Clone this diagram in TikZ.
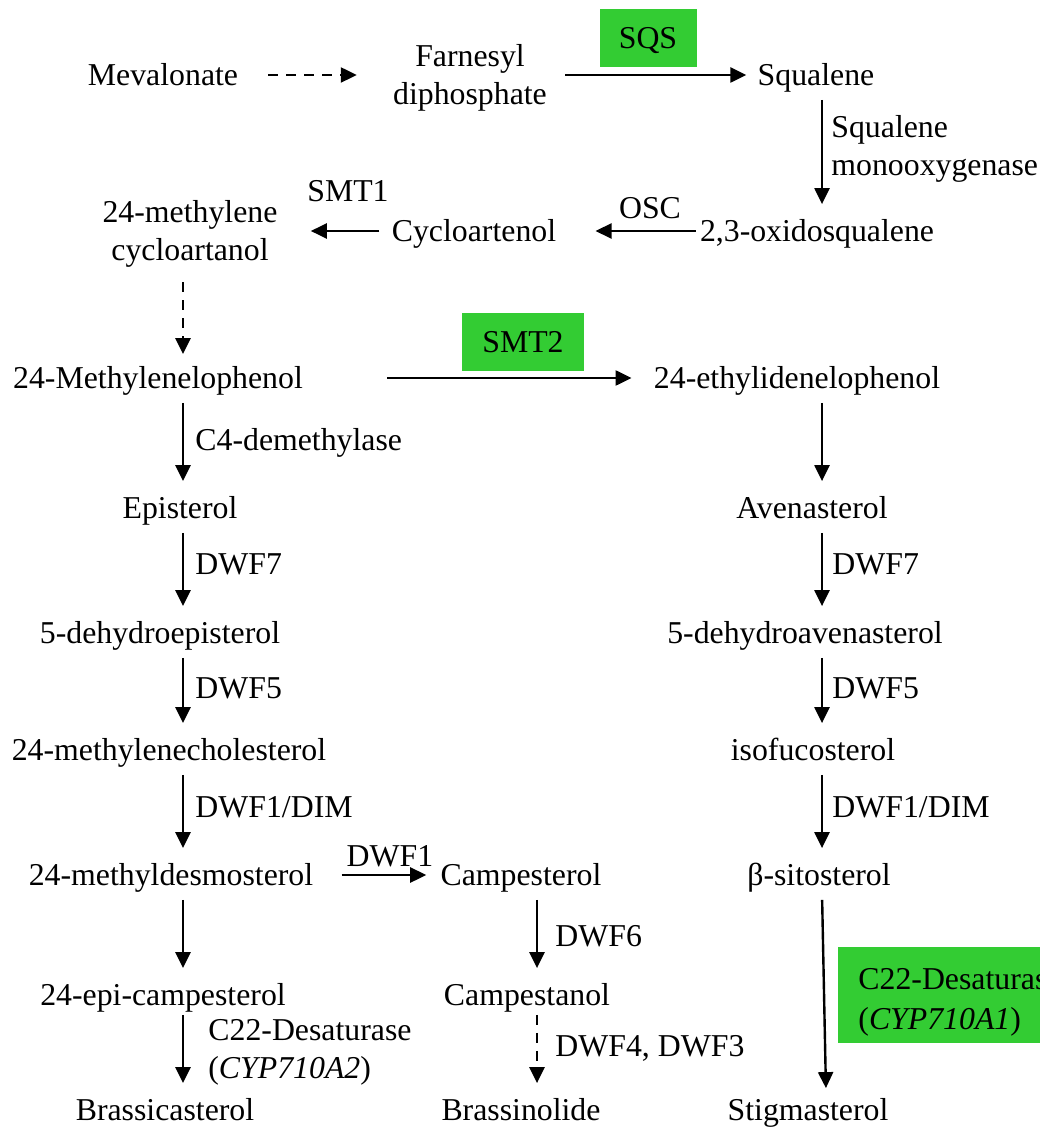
\documentclass[tikz,border=0pt]{standalone}
\usepackage{fontspec}
\setmainfont{Liberation Serif}
\usetikzlibrary{arrows.meta}
\definecolor{enzgreen}{HTML}{33CC33}
\newcommand{\lowfirst}{\lineskiplimit=-20pt\relax\rule{0pt}{17.5pt}}

\begin{document}
\begin{tikzpicture}[x=0.5pt, y=-0.5pt,
  every node/.style={font=\fontsize{15.9}{20}\selectfont},
  met/.style={align=center, inner sep=1pt},
  one/.style={met, text height=13pt, text depth=2.5pt},
  enz/.style={anchor=west, align=left, inner sep=1pt},
  gbox/.style={fill=enzgreen, inner sep=0pt, align=left},
  arr/.style={-{Triangle[length=8pt, width=7.5pt]}, line width=1.2pt},
  darr/.style={arr, dash pattern=on 5pt off 4pt},
  varr/.style={arr, shorten <=3.5pt, shorten >=4.5pt}
]
  \useasboundingbox (0,0) rectangle (1039,1127);

  % columns for the vertical arrows
  \coordinate (cl) at (183,0);
  \coordinate (cm) at (537,0);
  \coordinate (cr) at (822,0);
  \coordinate (cr2) at (826,0);

  % Top: mevalonate to squalene
  \node[one] (mev) at (163,75) {Mevalonate};
  \node[met, font=\fontsize{15.9}{18.75}\selectfont] (fpp) at (470,78) {Farnesyl\\diphosphate};
  \node[one] (sq) at (816,75) {Squalene};
  \node[gbox, one, minimum width=48.5pt, minimum height=29pt, inner sep=0pt] (sqs) at (648,38) {SQS};

  % Cyclisation
  \node[one] (oxsq) at (817,231) {2,3-oxidosqualene};
  \node[one] (cyc) at (474,231) {Cycloartenol};
  \node[met, font=\fontsize{15.9}{19}\selectfont] (mcyc) at (190,233.5) {24-methylene\\cycloartanol};
  \node[enz, font=\fontsize{15.9}{19}\selectfont] (sqmo) at (829,148.5) {Squalene\\monooxygenase};
  \node[met] (osc) at (650,208) {OSC};
  \node[met] (smt1) at (348,191) {SMT1};

  % Branch point
  \node[one] (mlp) at (158,378) {24-Methylenelophenol};
  \node[one] (elp) at (797,378) {24-ethylidenelophenol};
  \node[gbox, one, minimum width=61pt, minimum height=29pt, inner sep=0pt] (smt2) at (523,342) {SMT2};

  % Left column
  \node[one] (epi) at (180,508) {Episterol};
  \node[one] (dhepi) at (160,633) {5-dehydroepisterol};
  \node[one] (mchol) at (169,750) {24-methylenecholesterol};
  \node[one] (mdes) at (171,875) {24-methyldesmosterol};
  \node[one] (epic) at (163,995) {24-epi-campesterol};
  \node[one] (brsc) at (165,1110) {Brassicasterol};

  % Middle column
  \node[one] (camp) at (521,875) {Campesterol};
  \node[one] (cstn) at (527,995) {Campestanol};
  \node[one] (brsl) at (521,1110) {Brassinolide};

  % Right column
  \node[one] (aven) at (812,508) {Avenasterol};
  \node[one] (dhav) at (805,633) {5-dehydroavenasterol};
  \node[one] (isof) at (813,750) {isofucosterol};
  \node[one] (sito) at (819,875) {β-sitosterol};
  \node[one] (stig) at (808,1110) {Stigmasterol};

  % Enzyme labels
  \node[enz] (c4dm) at (193,443) {C4-demethylase};
  \node[enz] (dwf7l) at (193,564) {DWF7};
  \node[enz] (dwf5l) at (193,688) {DWF5};
  \node[enz] (dimL) at (193,807) {DWF1/DIM};
  \node[met] (dwf1) at (390,856) {DWF1};
  \node[enz, font=\fontsize{15.9}{19}\selectfont] (c22l) at (206,1052.5) {C22-Desaturase\\(\textit{CYP710A2})};
  \node[enz] (dwf6) at (553,936) {DWF6};
  \node[enz] (dwf43) at (553,1048) {DWF4, DWF3};
  \node[enz] (dwf7r) at (830,564) {DWF7};
  \node[enz] (dwf5r) at (830,688) {DWF5};
  \node[enz] (dimR) at (830,807) {DWF1/DIM};
  \node[gbox, anchor=west, inner xsep=10pt, minimum height=48pt] (c22r) at (838,995)
    {\lowfirst C22-Desaturase\\(\textit{CYP710A1})};

  % Horizontal arrows
  \draw[darr] ([xshift=14pt]mev.east) -- ([xshift=-17pt]fpp.west |- mev.east);
  \draw[arr] ([xshift=8pt]fpp.east |- sq.west) -- ([xshift=-4.5pt]sq.west);
  \draw[arr] ([xshift=-1pt]oxsq.west) -- ([xshift=18.5pt]cyc.east);
  \draw[arr] ([xshift=-5pt]cyc.west) -- ([xshift=15.5pt]mcyc.east |- cyc.west);
  \draw[arr] ([xshift=41pt]mlp.east) -- ([xshift=-10pt]elp.west);
  \draw[arr] ([xshift=13pt]mdes.east) -- ([xshift=-6pt]camp.west);

  % Vertical arrows
  \draw[varr] (sq.south -| cr) -- (oxsq.north -| cr);
  \draw[darr, shorten <=6.5pt, shorten >=3pt] (mcyc.south -| cl) -- (mlp.north -| cl);
  \draw[varr] (mlp.south -| cl) -- (epi.north -| cl);
  \draw[varr] (epi.south -| cl) -- (dhepi.north -| cl);
  \draw[varr] (dhepi.south -| cl) -- (mchol.north -| cl);
  \draw[varr] (mchol.south -| cl) -- (mdes.north -| cl);
  \draw[varr] (mdes.south -| cl) -- (epic.north -| cl);
  \draw[varr, shorten <=1pt] (epic.south -| cl) -- (brsc.north -| cl);
  \draw[varr] (camp.south -| cm) -- (cstn.north -| cm);
  \draw[darr, shorten <=1pt, shorten >=4.5pt] (cstn.south -| cm) -- (brsl.north -| cm);
  \draw[varr] (elp.south -| cr) -- (aven.north -| cr);
  \draw[varr] (aven.south -| cr) -- (dhav.north -| cr);
  \draw[varr] (dhav.south -| cr) -- (isof.north -| cr);
  \draw[varr] (isof.south -| cr) -- (sito.north -| cr);
  \draw[arr, shorten <=3.5pt, shorten >=2pt] (sito.south -| cr) -- (stig.north -| cr2);
\end{tikzpicture}
\end{document}
